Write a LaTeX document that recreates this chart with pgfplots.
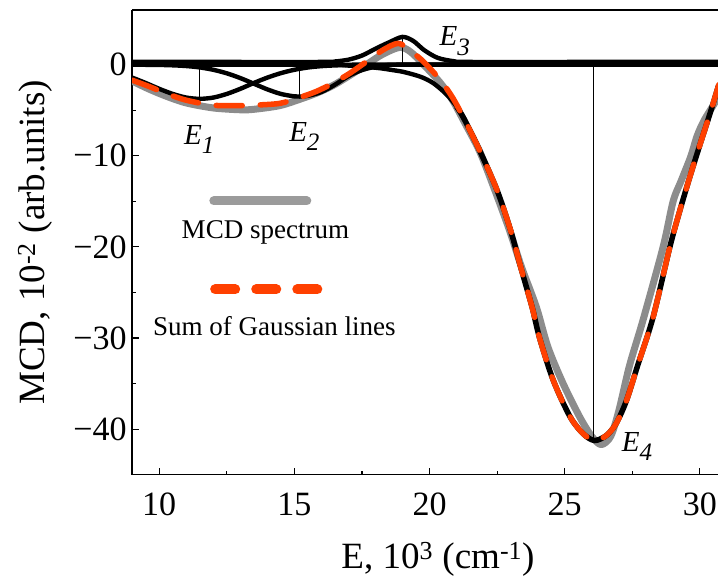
\documentclass[border=0pt]{standalone}
\usepackage{fontspec}
\setmainfont{Liberation Serif}
\usepackage{pgfplots}
\pgfplotsset{compat=1.18}

\definecolor{mcdgray}{RGB}{140,140,140}
\definecolor{legray}{RGB}{155,155,155}
\definecolor{sumred}{RGB}{255,64,0}

\newcommand{\El}[1]{E\raisebox{-0.32em}{\fontsize{25}{29}\selectfont #1}}

\begin{document}
\begin{tikzpicture}
\begin{axis}[
    scale only axis,
    width=585pt, height=464pt,
    xmin=9, xmax=30.67,
    ymin=-45, ymax=6,
    enlargelimits=false,
    axis x line*=box,
    axis y line*=left,
    axis line style={-, line width=1.6pt},
    xtick pos=left, ytick pos=left,
    tick align=inside,
    xtick={10,15,20,25,30},
    xticklabels={\textrm{10},\textrm{15},\textrm{20},\textrm{25},\textrm{30}},
    ytick={-40,-30,-20,-10,0},
    yticklabels={\textrm{−40},\textrm{−30},\textrm{−20},\textrm{−10},\textrm{0}},
    minor x tick num=1, minor y tick num=1,
    major tick length=7pt, minor tick length=4pt,
    every tick/.style={black, line width=1.2pt},
    tick label style={font=\fontsize{34}{40}\selectfont},
    xticklabel style={yshift=-15pt},
    yticklabel style={xshift=-2pt},
    label style={font=\fontsize{37}{44}\selectfont},
    xlabel={E, 10\textsuperscript{3} (cm\textsuperscript{-1})},
    ylabel={MCD, 10\textsuperscript{-2} (arb.units)},
    xlabel style={at={(axis description cs:0.522,0)}, anchor=base, yshift=-94pt},
    ylabel style={at={(axis description cs:-0.166,0.5)}, anchor=center},
]
\coordinate (bl) at (rel axis cs:0,0);
\coordinate (tr) at (rel axis cs:1,1);

% MCD spectrum
\addplot[mcdgray, line width=7pt, smooth, line join=round] coordinates {
(9.0,-1.8)(9.6,-2.65)(10.25,-3.45)(11.0,-4.2)(12.0,-4.75)(13.0,-4.95)(13.5,-4.9)
(14.45,-4.5)(15.2,-3.8)(15.8,-3.15)(16.42,-2.3)(17.04,-1.2)(17.66,0.0)(18.27,1.15)
(18.9,1.9)(19.3,1.4)(19.78,0.0)(20.4,-2.0)(20.85,-3.9)(21.27,-6.2)(21.85,-9.5)
(22.38,-13.5)(22.96,-18.2)(23.4,-22.2)(23.95,-26.6)(24.38,-31.0)(24.94,-35.0)
(25.56,-38.7)(26.0,-40.8)(26.35,-41.7)(26.7,-40.8)(27.0,-38.0)(27.4,-33.0)
(27.9,-28.0)(28.64,-20.0)(29.01,-15.0)(29.3,-12.8)(29.66,-10.1)(29.9,-7.8)
(30.16,-6.1)(30.53,-4.3)(30.7,-3.4)};

% Gaussian components
\addplot[black, line width=4.4pt, smooth] coordinates {
(9.0,-1.42)(9.5,-2.01)(10,-2.65)(10.5,-3.21)(11,-3.61)(11.5,-3.75)(12,-3.61)
(12.5,-3.21)(13,-2.65)(13.5,-2.01)(14,-1.42)(14.5,-0.93)(15,-0.56)(15.5,-0.31)
(16,-0.16)(16.5,-0.08)(17,-0.03)(17.5,0)(24,0)(30.7,0)};
\addplot[black, line width=4.4pt, smooth] coordinates {
(9,0)(10,-0.03)(10.5,-0.07)(11,-0.15)(11.5,-0.30)(12,-0.56)(12.5,-0.95)(13,-1.47)
(13.5,-2.09)(14,-2.71)(14.5,-3.21)(15,-3.48)(15.2,-3.5)(15.5,-3.42)(16,-3.0)
(16.5,-2.2)(17,-1.25)(17.5,-0.6)(18,-0.22)(18.5,-0.06)(19,0)(25,0)(30.7,0)};
\addplot[black, line width=4.4pt, smooth] coordinates {
(9,0.3)(12,0.3)(16,0.3)(16.5,0.35)(17,0.55)(17.5,1.0)(18,1.75)(18.5,2.45)
(19.0,3.05)(19.4,2.6)(19.8,1.6)(20.3,0.75)(20.9,0.38)(21.5,0.3)(26,0.3)(30.7,0.3)};
\addplot[black, line width=4.4pt, smooth] coordinates {
(9,0)(13,0)(16.3,0)(17,-0.1)(17.6,-0.22)(18.2,-0.4)(18.6,-0.58)(19.04,-0.8)
(19.67,-1.33)(20.15,-2.05)(20.64,-3.3)(21.0,-4.6)(21.27,-5.9)};
\addplot[black, line width=5.5pt, smooth] coordinates {
(21.0,-4.6)(21.27,-5.9)(21.85,-9.4)(22.5,-13.8)(23.0,-18.2)(23.37,-22.2)(23.8,-26.7)
(24.07,-30.0)(24.57,-34.6)(25.19,-38.6)(25.68,-40.5)(26.1,-41.25)(26.54,-40.7)
(26.9,-39.4)(27.28,-36.9)(27.7,-33.0)(28.27,-27.7)(28.89,-20.0)(29.26,-16.0)
(29.63,-12.3)(30.0,-8.8)(30.37,-5.4)(30.7,-2.2)};

% peak positions
\addplot[black, line width=1.1pt] coordinates {(11.5,0)(11.5,-3.75)};
\addplot[black, line width=1.1pt] coordinates {(15.2,0)(15.2,-3.5)};
\addplot[black, line width=1.1pt] coordinates {(19.0,0)(19.0,3.05)};
\addplot[black, line width=1.1pt] coordinates {(26.07,0)(26.07,-41.25)};

% sum of Gaussian lines
\addplot[sumred, line width=5.5pt, smooth, line cap=round,
    dash pattern=on 26pt off 18pt] coordinates {
(9.0,-1.7)(9.63,-2.4)(10.25,-3.15)(11.0,-3.9)(12.0,-4.45)(13.0,-4.5)(13.46,-4.45)
(14.45,-4.25)(15.19,-3.6)(15.8,-2.95)(16.42,-2.05)(17.04,-0.96)(17.66,0.32)
(18.27,1.6)(18.85,2.34)(19.3,1.5)(19.78,0.32)(20.4,-1.7)(20.85,-3.6)(21.27,-5.9)
(21.85,-9.4)(22.5,-13.8)(23.0,-18.2)(23.37,-22.2)(23.8,-26.7)(24.07,-30.0)
(24.57,-34.6)(25.19,-38.6)(25.68,-40.5)(26.1,-41.25)(26.54,-40.7)(26.9,-39.4)
(27.28,-36.9)(27.7,-33.0)(28.27,-27.7)(28.89,-20.0)(29.26,-16.0)(29.63,-12.3)
(30.0,-8.8)(30.37,-5.4)(30.7,-2.2)};

% legend
\draw[legray, line width=9pt, line cap=round] (axis cs:12.02,-14.96) -- (axis cs:15.46,-14.96);
\node[anchor=base, font=\fontsize{27}{32}\selectfont] at (axis cs:13.93,-19.1) {MCD spectrum};
\draw[sumred, line width=10pt, line cap=round, dash pattern=on 20pt off 21pt]
    (axis cs:12.07,-24.66) -- (axis cs:15.85,-24.66);
\node[anchor=base, font=\fontsize{27}{32}\selectfont] at (axis cs:14.26,-29.7) {Sum of Gaussian lines};

% component labels
\node[font=\fontsize{29}{34}\selectfont\itshape] at (axis cs:11.48,-8.2) {\El{1}};
\node[font=\fontsize{29}{34}\selectfont\itshape] at (axis cs:15.37,-7.85) {\El{2}};
\node[font=\fontsize{29}{34}\selectfont\itshape] at (axis cs:20.93,2.6) {\El{3}};
\node[font=\fontsize{29}{34}\selectfont\itshape] at (axis cs:27.67,-41.9) {\El{4}};
\end{axis}
\pgfresetboundingbox
\path[use as bounding box] ([shift={(-132pt,-103pt)}]bl) rectangle ([shift={(0pt,10pt)}]tr);
\end{tikzpicture}
\end{document}
